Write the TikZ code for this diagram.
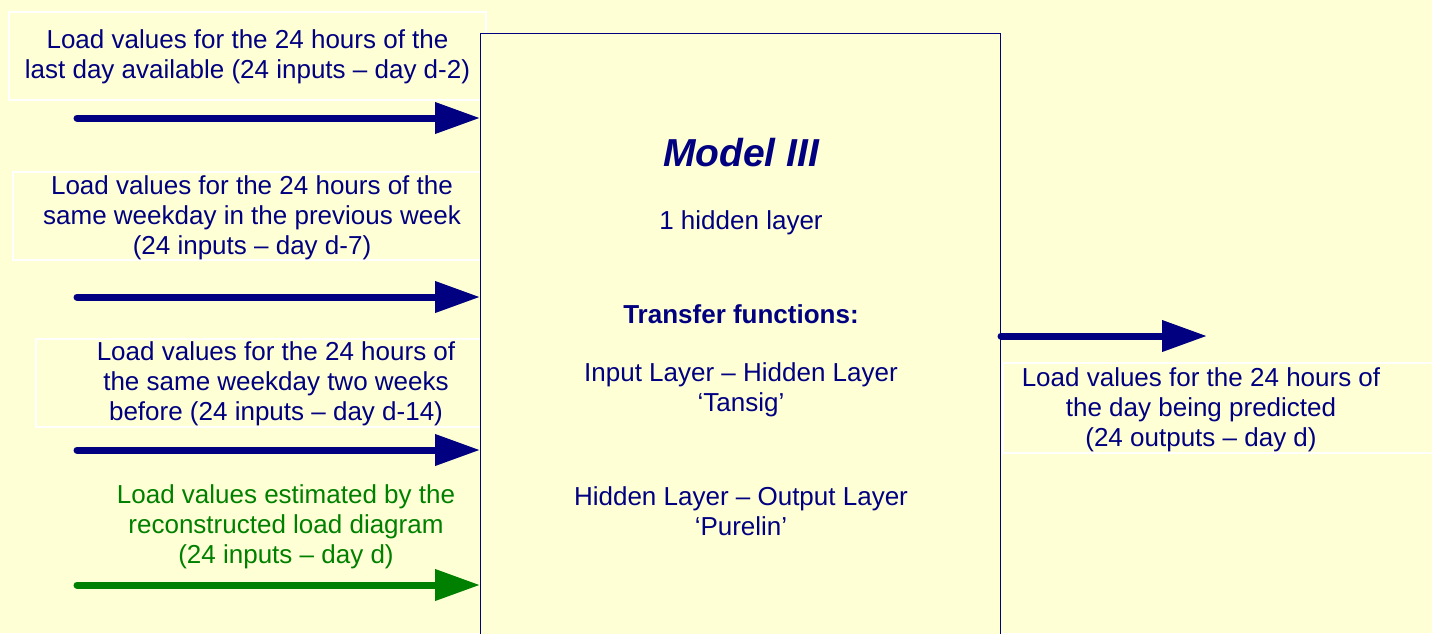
\documentclass[tikz,border=0pt]{standalone}
\usepackage{fontspec}
\setmainfont{Liberation Sans}
\usetikzlibrary{arrows.meta,positioning}

\definecolor{paper}{RGB}{255,255,213}
\definecolor{ink}{RGB}{0,0,128}
\definecolor{leaf}{RGB}{0,128,0}

\tikzstyle{txt}=[text=ink,align=center,inner sep=0pt,font=\fontsize{26}{30}\selectfont]
\tikzstyle{frame}=[draw=white,line width=2pt,minimum height=88pt,inner sep=0pt]
\tikzstyle{model}=[draw=ink,fill=paper,line width=1pt,minimum width=520pt,minimum height=640pt,anchor=north west]
\tikzstyle{feed}=[line width=7pt,line cap=round,-{Triangle[length=45pt,width=30pt]}]

\begin{document}
\begin{tikzpicture}[x=1pt,y=-1pt]
  \clip (0,0) rectangle (1432,633);
  \fill[paper] (0,0) rectangle (1432,633);

  % boxes round the input texts (behind the model box)
  \node (f1)[frame,minimum width=477pt] at (247.5,55.5) {};
  \node (f2)[frame,minimum width=478pt] at (252,216) {};
  \node (f3)[frame,minimum width=480pt] at (276,382.5) {};
  \node (f5)[frame,minimum width=440pt,minimum height=90pt] at (1223,408) {};

  \node (m)[model] at (480,33) {};

  % input texts
  \node (t1)[txt] at (247.5,57) {Load values for the 24 hours of the\\last day available (24 inputs -- day d-2)};
  \node (t2)[txt] at (252,218) {Load values for the 24 hours of the\\same weekday in the previous week\\(24 inputs -- day d-7)};
  \node (t3)[txt] at (276,384) {Load values for the 24 hours of\\the same weekday two weeks\\before (24 inputs -- day d-14)};
  \node (t4)[txt,text=leaf] at (286,527) {Load values estimated by the\\reconstructed load diagram\\(24 inputs -- day d)};
  \node (t5)[txt] at (1201,410) {Load values for the 24 hours of\\the day being predicted\\(24 outputs -- day d)};

  % model description
  \node (name)[txt,font=\fontsize{39}{44}\selectfont\bfseries\itshape] at (741,153) {Model III};
  \node (hid)[txt] at (741,223) {1 hidden layer};
  \node (tf)[txt,font=\fontsize{26}{30}\selectfont\bfseries] at (741,314) {Transfer functions:};
  \node (ih)[txt] at (741,390) {Input Layer -- Hidden Layer\\`Tansig'};
  \node (ho)[txt] at (741,511) {Hidden Layer -- Output Layer\\`Purelin'};

  % arrows in and out
  \coordinate (a1) at (77,118);
  \coordinate (a2) at (77,297);
  \coordinate (a3) at (77,450);
  \coordinate (a4) at (77,585);
  \coordinate (out) at (1207,336);

  \foreach \i in {1,...,3}{
      \draw[feed,ink] (a\i) -- (a\i -| m.west);
  }
  \draw[feed,leaf] (a4) -- (a4 -| m.west);
  \draw[feed,ink] (out -| m.east) -- (out);
\end{tikzpicture}
\end{document}
